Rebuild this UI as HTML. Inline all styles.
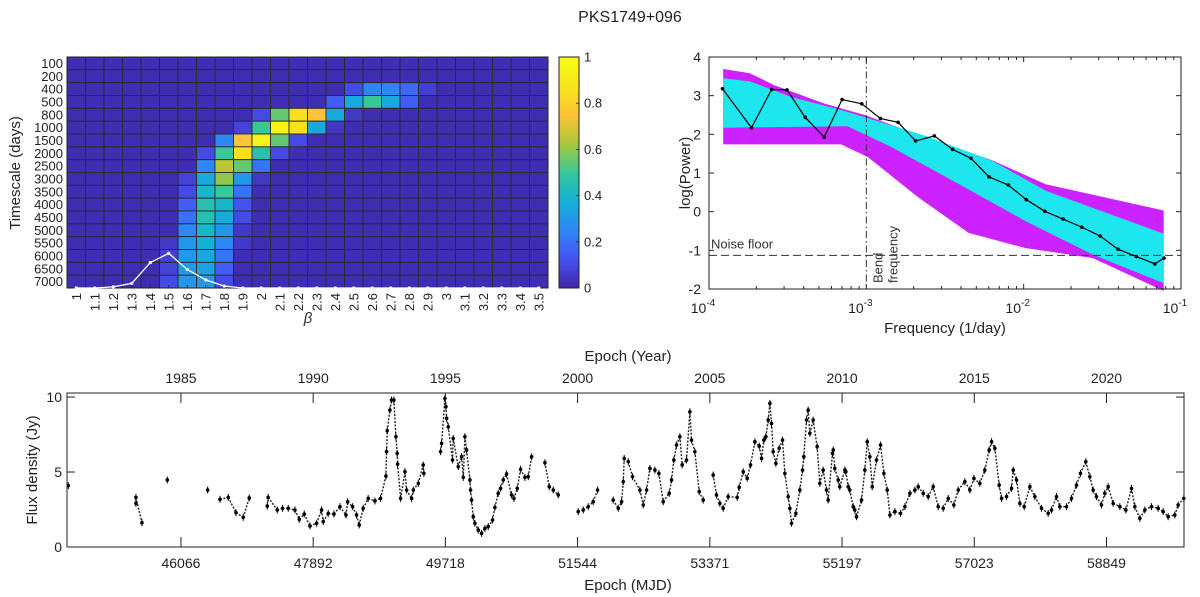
<!DOCTYPE html>
<html><head><meta charset="utf-8"><style>
html,body{margin:0;padding:0;background:#fff;}
svg{display:block;font-family:"Liberation Sans",Arial,sans-serif;}
</style></head><body>
<svg id="fig" width="1200" height="597" viewBox="0 0 1200 597" xmlns="http://www.w3.org/2000/svg">
<rect width="1200" height="597" fill="#fff"/>
<text x="630" y="22" text-anchor="middle" font-size="16" fill="#222">PKS1749+096</text>
<g id="hm"></g>
<g id="psd"></g>
<g id="lc"></g>
</svg>
<script>
// ---------- heatmap data ----------
const betaLabels = ["1","1.1","1.2","1.3","1.4","1.5","1.6","1.7","1.8","1.9","2","2.1","2.2","2.3","2.4","2.5","2.6","2.7","2.8","2.9","3","3.1","3.2","3.3","3.4","3.5"];
const timescaleLabels = ["100","200","400","500","800","1000","1500","2000","2500","3000","3500","4000","4500","5000","5500","6000","6500","7000"];
const probRows = [
[0,0,0,0,0,0,0,0,0,0,0,0,0,0,0,0,0,0,0,0,0,0,0,0,0,0],
[0,0,0,0,0,0,0,0,0,0,0,0,0,0,0,0,0,0,0,0,0,0,0,0,0,0],
[0,0,0,0,0,0,0,0,0,0,0,0,0,0,0,.1,.25,.25,.18,.07,0,0,0,0,0,0],
[0,0,0,0,0,0,0,0,0,0,0,0,0,0,.15,.35,.5,.35,.15,0,0,0,0,0,0,0],
[0,0,0,0,0,0,0,0,0,0,.1,.55,.85,.75,.35,.05,0,0,0,0,0,0,0,0,0,0],
[0,0,0,0,0,0,0,0,0,.08,.5,.95,.85,.35,.05,0,0,0,0,0,0,0,0,0,0,0],
[0,0,0,0,0,0,0,0,.25,.75,.95,.55,.1,0,0,0,0,0,0,0,0,0,0,0,0,0],
[0,0,0,0,0,0,0,.1,.5,.85,.45,.1,0,0,0,0,0,0,0,0,0,0,0,0,0,0],
[0,0,0,0,0,0,0,.25,.65,.55,.2,0,0,0,0,0,0,0,0,0,0,0,0,0,0,0],
[0,0,0,0,0,0,.08,.35,.6,.3,.05,0,0,0,0,0,0,0,0,0,0,0,0,0,0,0],
[0,0,0,0,0,0,.1,.4,.5,.2,0,0,0,0,0,0,0,0,0,0,0,0,0,0,0,0],
[0,0,0,0,0,0,.15,.45,.4,.12,0,0,0,0,0,0,0,0,0,0,0,0,0,0,0,0],
[0,0,0,0,0,0,.2,.45,.35,.1,0,0,0,0,0,0,0,0,0,0,0,0,0,0,0,0],
[0,0,0,0,0,0,.25,.4,.3,.05,0,0,0,0,0,0,0,0,0,0,0,0,0,0,0,0],
[0,0,0,0,0,.05,.3,.38,.25,.05,0,0,0,0,0,0,0,0,0,0,0,0,0,0,0,0],
[0,0,0,0,0,.07,.3,.35,.2,0,0,0,0,0,0,0,0,0,0,0,0,0,0,0,0,0],
[0,0,0,0,0,.08,.3,.33,.15,0,0,0,0,0,0,0,0,0,0,0,0,0,0,0,0,0],
[0,0,0,0,0,.1,.3,.3,.1,0,0,0,0,0,0,0,0,0,0,0,0,0,0,0,0,0]];
const betaMarginal = [0,0,.005,.02,.11,.15,.08,.035,.008,0,0,0,0,0,0,0,0,0,0,0,0,0,0,0,0,0];
const cbarTicks = ["0","0.2","0.4","0.6","0.8","1"];

// ---------- PSD data ----------
const psdLogF = [-3.914,-3.730,-3.602,-3.504,-3.389,-3.268,-3.154,-3.029,-2.911,-2.798,-2.687,-2.568,-2.452,-2.335,-2.220,-2.098,-1.983,-1.866,-1.749,-1.631,-1.514,-1.401,-1.284,-1.166,-1.108];
const psdLogP = [3.18,2.17,3.16,3.15,2.44,1.93,2.90,2.79,2.41,2.31,1.83,1.96,1.61,1.38,0.90,0.69,0.31,0.01,-0.19,-0.40,-0.63,-0.97,-1.16,-1.35,-1.20];
const magUpF = [-3.91,-3.74,-3.59,-3.27,-3.01,-2.63,-2.20,-1.86,-1.11];
const magUpP = [3.69,3.58,3.28,2.80,2.50,1.93,1.33,0.71,0.03];
const magLoF = [-1.11,-1.56,-1.99,-2.35,-2.67,-2.99,-3.16,-3.91];
const magLoP = [-2.05,-1.20,-0.94,-0.55,0.37,1.41,1.74,1.74];
const cyUpF = [-3.91,-3.74,-3.48,-3.16,-2.63,-2.20,-1.86,-1.11];
const cyUpP = [3.45,3.37,2.97,2.63,1.97,1.32,0.54,-0.57];
const cyLoF = [-1.11,-1.56,-1.99,-2.41,-2.84,-3.12,-3.91];
const cyLoP = [-1.85,-1.11,-0.24,0.71,1.67,2.21,2.17];
const noiseFloor = -1.13;
const bendLogF = -3;
const psdYTicks = [-2,-1,0,1,2,3,4];
const psdXTicks = [-4,-3,-2,-1];

// ---------- light curve data ----------
const lcMJD = [44510,45444,45444,45527,45877,46435,46605,46719,46826,46926,47009,47258,47270,47396,47470,47548,47640,47700,47769,47848,47940,48008,48031,48100,48179,48262,48345,48368,48437,48492,48528,48583,48652,48745,48823,48897,48906,48915,48952,48975,49007,49035,49053,49058,49100,49160,49183,49252,49275,49344,49412,49421,49652,49666,49712,49726,49735,49758,49817,49826,49896,49942,49965,49988,50011,50057,50066,50080,50103,50126,50172,50218,50264,50310,50370,50402,50448,50481,50517,50563,50632,50665,50711,50757,50817,50863,50909,51093,51153,51208,51277,51553,51622,51691,51760,51820,52036,52106,52152,52175,52188,52244,52303,52405,52451,52497,52543,52612,52667,52727,52810,52842,52874,52911,52957,52989,53049,53095,53118,53164,53224,53279,53417,53463,53509,53555,53624,53749,53776,53832,53887,53933,53993,54053,54085,54117,54145,54177,54200,54223,54246,54283,54329,54375,54407,54453,54476,54499,54559,54614,54651,54669,54706,54729,54752,54798,54853,54890,54936,54982,55005,55065,55075,55097,55144,55166,55236,55249,55282,55304,55351,55373,55397,55466,55512,55545,55581,55614,55673,55729,55775,55821,55858,55927,56005,56065,56134,56203,56249,56318,56387,56456,56525,56594,56663,56741,56801,56893,56962,57018,57100,57169,57229,57262,57308,57367,57400,57469,57538,57561,57607,57653,57713,57791,57860,57952,58044,58090,58159,58205,58297,58366,58435,58490,58564,58619,58665,58711,58780,58826,58873,58942,59034,59117,59195,59241,59310,59379,59471,59563,59632,59701,59793,59839,59917];
const lcFlux = [4.09,2.91,3.31,1.62,4.47,3.8,3.18,3.31,2.29,1.98,3.27,2.73,3.31,2.47,2.58,2.58,2.47,1.84,2.2,1.4,1.58,2.47,1.69,2.24,2.2,2.69,2.13,3.02,2.69,2.13,1.47,2.58,3.24,3.07,3.24,4.73,6.36,7.76,9.13,9.8,9.8,7.36,6.24,5.53,3.24,5.02,3.8,3.24,3.8,4.24,5.47,4.91,6.36,6.91,9.91,9.36,8.58,8.02,5.8,7.24,5.36,6.02,4.64,7.36,6.47,4.47,3.8,3.13,2.02,1.58,1.13,0.91,1.24,1.36,1.8,2.64,3.58,3.91,4.47,4.87,3.47,3.24,3.91,5.18,4.64,4.69,6.02,5.62,4.02,3.8,3.47,2.36,2.47,2.69,3.02,3.8,3.13,2.58,3.02,4.36,5.91,5.69,4.69,3.8,2.8,3.8,5.24,5.13,4.91,3.02,3.58,4.47,5.8,6.8,7.36,5.47,5.8,9.02,7.13,6.36,3.69,3.13,4.8,3.47,2.91,2.58,3.36,3.31,3.98,5.02,4.58,5.47,7.02,6.73,5.91,7.13,7.36,8.47,9.58,8.24,6.36,5.58,6.58,7.13,4.91,3.36,2.58,1.58,2.24,3.8,5.13,6.02,8.47,9.13,7.58,8.47,6.69,4.24,5.13,3.8,3.13,6.24,6.47,5.24,4.47,4.02,5.13,5.02,4.02,3.8,2.69,2.47,2.02,3.13,5.13,7.02,6.02,4.02,5.8,6.8,4.91,3.8,2.13,2.36,2.24,2.69,3.58,3.8,4.02,3.58,3.36,4.02,2.69,2.58,3.24,2.8,3.8,4.36,3.8,4.58,4.24,5.13,6.47,7.02,6.58,4.13,3.24,3.36,3.91,5.13,4.47,2.91,2.69,4.02,3.36,2.58,2.24,2.47,3.36,2.69,2.69,3.24,4.13,4.91,5.69,4.69,3.8,3.36,2.8,3.58,4.02,2.91,2.69,2.47,3.91,2.69,1.91,2.47,2.69,2.58,2.36,2.02,2.13,2.8,3.24];
const yearTicks = [1985,1990,1995,2000,2005,2010,2015,2020];
const mjdTicks = [46066,47892,49718,51544,53371,55197,57023,58849];
const fluxTicks = [0,5,10];

const NS="http://www.w3.org/2000/svg";
function mk(parent,tag,attrs,text){const e=document.createElementNS(NS,tag);for(const k in attrs)e.setAttribute(k,attrs[k]);if(text!==undefined)e.textContent=text;parent.appendChild(e);return e;}

const PAR=[[0,[62,38,168]],[0.125,[71,82,244]],[0.25,[46,135,247]],[0.375,[18,177,214]],[0.5,[55,200,151]],[0.625,[171,199,57]],[0.75,[254,195,56]],[0.875,[246,231,25]],[1,[249,251,20]]];
function parula(v){v=Math.max(0,Math.min(1,v));for(let i=1;i<PAR.length;i++){if(v<=PAR[i][0]){const a=PAR[i-1],b=PAR[i];const t=(v-a[0])/(b[0]-a[0]);const c=a[1].map((x,j)=>Math.round(x+(b[1][j]-x)*t));return `rgb(${c[0]},${c[1]},${c[2]})`;}}return "rgb(249,251,20)";}

// ---------- Heatmap ----------
(function(){
const g=document.getElementById('hm');
const L=67,R=548,T=57,B=288;
const nC=betaLabels.length,nR=timescaleLabels.length;
const cw=(R-L)/nC,rh=(B-T)/nR;
const xc=i=>L+cw*(i+0.5), yr=j=>T+rh*j;
probRows.forEach((row,j)=>row.forEach((v,i)=>{
  const r=mk(g,'rect',{x:L+cw*i,y:yr(j),width:cw,height:rh,fill:parula(v===0?0.02:v),stroke:'#2a2a2a','stroke-width':0.9});
  
  
}));
mk(g,'rect',{x:L,y:T,width:R-L,height:B-T,fill:'none',stroke:'#222','stroke-width':1});
timescaleLabels.forEach((t,j)=>{
  const e=mk(g,'text',{x:L-4,y:yr(j)+rh/2+4.5,'text-anchor':'end','font-size':13,fill:'#222'},t);
  
  
});
betaLabels.forEach((t,i)=>{
  const x=xc(i);
  mk(g,'line',{x1:x,y1:B,x2:x,y2:B-3,stroke:'#222','stroke-width':0.8});
  const e=mk(g,'text',{x:0,y:0,transform:`translate(${x+4.5},${B+5}) rotate(-90)`,'text-anchor':'end','font-size':13,fill:'#222'},t);
  
  
});
let pts=betaMarginal.map((v,i)=>[xc(i),B-v*(B-T)]);
const pl=mk(g,'polyline',{points:pts.map(p=>p.join(',')).join(' '),fill:'none',stroke:'#fff','stroke-width':1.3});


pts.forEach(p=>{const c=mk(g,'circle',{cx:p[0],cy:p[1],r:1.6,fill:'#fff'});
  
  });
mk(g,'text',{x:308,y:323,'text-anchor':'middle','font-size':15,'font-style':'italic',fill:'#333',},'β');
mk(g,'text',{x:0,y:0,transform:'translate(20,173) rotate(-90)','text-anchor':'middle','font-size':15,fill:'#222',},'Timescale (days)');
const cx0=559,cx1=579;
const defs=mk(g,'defs',{});
const lg=mk(defs,'linearGradient',{id:'cbg',x1:0,y1:1,x2:0,y2:0});
for(let k=0;k<=20;k++){mk(lg,'stop',{offset:k/20,'stop-color':parula(k/20)});}
mk(g,'rect',{x:cx0,y:T,width:cx1-cx0,height:B-T,fill:'url(#cbg)',stroke:'#222','stroke-width':1,});
cbarTicks.forEach((t,k)=>{
  const y=B-(B-T)*(+t);
  mk(g,'line',{x1:cx1,y1:y,x2:cx1-3,y2:y,stroke:'#222','stroke-width':0.8});
  const e=mk(g,'text',{x:cx1+5,y:y+4.5,'font-size':13,fill:'#222'},t);
  
  
});
})();

// ---------- PSD ----------
(function(){
const g=document.getElementById('psd');
const L=709,R=1181,T=57,B=289;
const X=lf=>L+(lf+4)/3*(R-L), Y=lp=>B-(lp+2)/6*(B-T);
const poly=(fu,pu,fl,pl,fill,name)=>{
  const p=fu.map((f,i)=>X(f)+','+Y(pu[i])).concat(fl.map((f,i)=>X(f)+','+Y(pl[i])));
  const e=mk(g,'polygon',{points:p.join(' '),fill:fill});
  
  
};
poly(magUpF,magUpP,magLoF,magLoP,'#cc22ff','simulated-psd-envelope-magenta');
poly(cyUpF,cyUpP,cyLoF,cyLoP,'#1ee6ee','simulated-psd-envelope-cyan');
mk(g,'line',{x1:L,y1:Y(noiseFloor),x2:R,y2:Y(noiseFloor),stroke:'#333','stroke-width':1,'stroke-dasharray':'8,4',});
mk(g,'line',{x1:X(bendLogF),y1:T,x2:X(bendLogF),y2:B,stroke:'#333','stroke-width':1,'stroke-dasharray':'7,3,1.5,3',});
mk(g,'text',{x:711,y:Y(noiseFloor)-7,'font-size':13,fill:'#333',},'Noise floor');
mk(g,'text',{x:0,y:0,transform:`translate(${X(bendLogF)+16},${B-6}) rotate(-90)`,'font-size':13,fill:'#333',},'Bend');
mk(g,'text',{x:0,y:0,transform:`translate(${X(bendLogF)+31},${B-6}) rotate(-90)`,'font-size':13,fill:'#333',},'frequency');
const pts=psdLogF.map((f,i)=>[X(f),Y(psdLogP[i])]);
const pl=mk(g,'polyline',{points:pts.map(p=>p.join(',')).join(' '),fill:'none',stroke:'#000','stroke-width':1.2});


pts.forEach(p=>{const c=mk(g,'circle',{cx:p[0],cy:p[1],r:1.8,fill:'#000'});
  
  });
mk(g,'rect',{x:L,y:T,width:R-L,height:B-T,fill:'none',stroke:'#222','stroke-width':1});
psdYTicks.forEach(v=>{
  const y=Y(v);
  mk(g,'line',{x1:L,y1:y,x2:L+5,y2:y,stroke:'#222'});
  mk(g,'line',{x1:R,y1:y,x2:R-5,y2:y,stroke:'#222'});
  const e=mk(g,'text',{x:L-8,y:y+5,'text-anchor':'end','font-size':14,fill:'#222'},String(v));
  
  
});
psdXTicks.forEach((v,k)=>{
  const x=X(v);
  mk(g,'line',{x1:x,y1:B,x2:x,y2:B-5,stroke:'#222'});
  mk(g,'line',{x1:x,y1:T,x2:x,y2:T+5,stroke:'#222'});
  const e=mk(g,'text',{x:x-6,y:B+24,'text-anchor':'middle','font-size':14,fill:'#222'});
  
  
  mk(e,'tspan',{},'10');
  mk(e,'tspan',{dy:-7,'font-size':10},String(v));
  if(k<psdXTicks.length-1){for(let m=2;m<10;m++){const xm=X(v+Math.log10(m));
    mk(g,'line',{x1:xm,y1:B,x2:xm,y2:B-3,stroke:'#222'});
    mk(g,'line',{x1:xm,y1:T,x2:xm,y2:T+3,stroke:'#222'});}}
});
mk(g,'text',{x:945,y:333,'text-anchor':'middle','font-size':15,fill:'#222',},'Frequency (1/day)');
mk(g,'text',{x:0,y:0,transform:'translate(690,173) rotate(-90)','text-anchor':'middle','font-size':15,fill:'#222',},'log(Power)');
})();

// ---------- Light curve ----------
(function(){
const g=document.getElementById('lc');
const L=67,R=1184,T=393,B=547;
const M0=44492,M1=59920,F1=10.27;
const X=m=>L+(m-M0)/(M1-M0)*(R-L), Y=f=>B-f/F1*(B-T);
for(let i=1;i<lcMJD.length;i++){
  if(lcMJD[i]-lcMJD[i-1]<130){
    const s=mk(g,'line',{x1:X(lcMJD[i-1]),y1:Y(lcFlux[i-1]),x2:X(lcMJD[i]),y2:Y(lcFlux[i]),stroke:'#222','stroke-width':1.4,'stroke-dasharray':'2,1.5'});
    
    
  }
}
lcMJD.forEach((m,i)=>{
  const x=X(m),y=Y(lcFlux[i]);
  const e=mk(g,'line',{x1:x,y1:y-3.5,x2:x,y2:y+3.5,stroke:'#000','stroke-width':1});
  
  
  const c=mk(g,'circle',{cx:x,cy:y,r:1.8,fill:'#000'});
  
  
});
mk(g,'rect',{x:L,y:T,width:R-L,height:B-T,fill:'none',stroke:'#222','stroke-width':1});
fluxTicks.forEach(v=>{
  const y=Y(v);
  mk(g,'line',{x1:L,y1:y,x2:L+8,y2:y,stroke:'#222'});
  mk(g,'line',{x1:R,y1:y,x2:R-8,y2:y,stroke:'#222'});
  const e=mk(g,'text',{x:L-5,y:y+5,'text-anchor':'end','font-size':14,fill:'#222'},String(v));
  
  
});
mjdTicks.forEach(v=>{
  const x=X(v);
  mk(g,'line',{x1:x,y1:B,x2:x,y2:B-10,stroke:'#222'});
  const e=mk(g,'text',{x:x,y:B+21,'text-anchor':'middle','font-size':14,fill:'#222'},String(v));
  
  
});
yearTicks.forEach(v=>{
  const x=X(46066+(v-1985)*365.25);
  mk(g,'line',{x1:x,y1:T,x2:x,y2:T+10,stroke:'#222'});
  const e=mk(g,'text',{x:x,y:T-10,'text-anchor':'middle','font-size':14,fill:'#222'},String(v));
  
  
});
mk(g,'text',{x:628,y:361,'text-anchor':'middle','font-size':15,fill:'#222',},'Epoch (Year)');
mk(g,'text',{x:628,y:590,'text-anchor':'middle','font-size':15,fill:'#222',},'Epoch (MJD)');
mk(g,'text',{x:0,y:0,transform:'translate(37,470) rotate(-90)','text-anchor':'middle','font-size':15,fill:'#222',},'Flux density (Jy)');
})();
</script>
</body></html>
